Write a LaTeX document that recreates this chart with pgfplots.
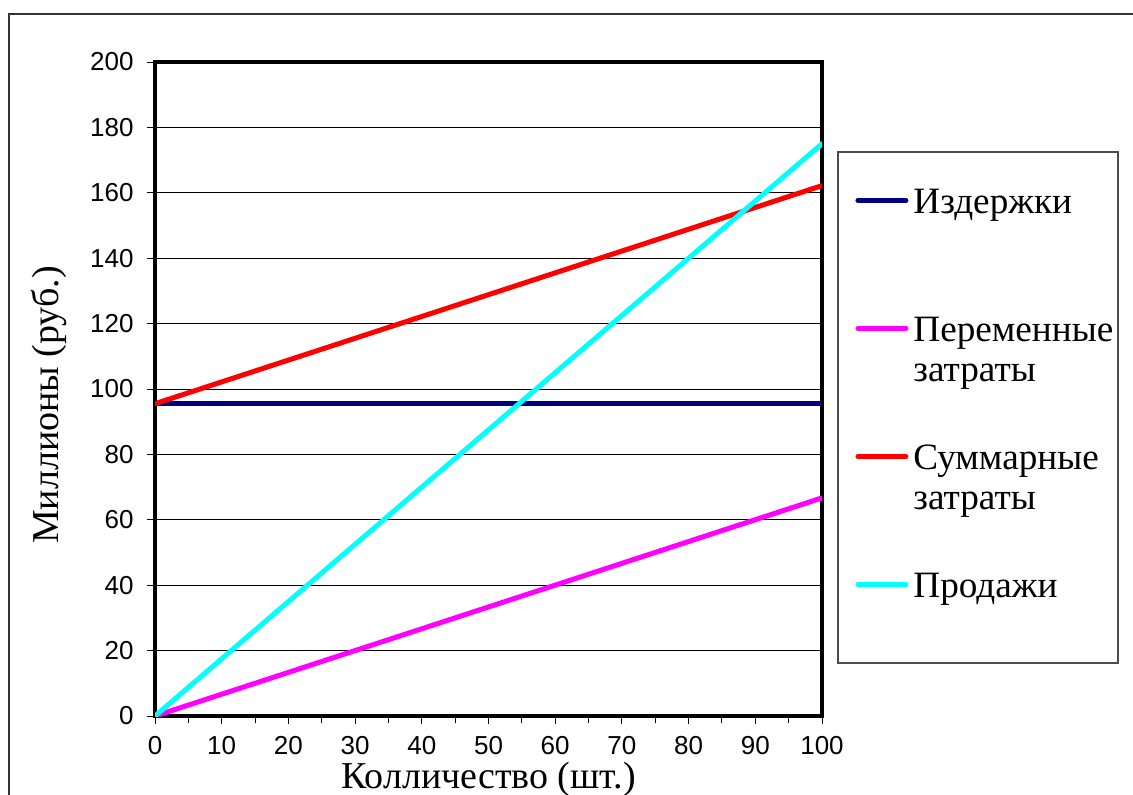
\documentclass[border=0pt]{standalone}
\usepackage{fontspec}
\setmainfont{Liberation Serif}
\setsansfont{Liberation Sans}
\usepackage{pgfplots}
\pgfplotsset{compat=1.18}
\definecolor{navyc}{RGB}{0,0,128}
\definecolor{magc}{RGB}{255,0,255}
\definecolor{redc}{RGB}{255,0,0}
\definecolor{cyanc}{RGB}{0,255,255}
\begin{document}
\begin{tikzpicture}[x=1pt,y=1pt]
\useasboundingbox (0,0) rectangle (566.5,397);
\draw[line width=0.6pt, black!80] (4.5,-2) -- (4.5,390) -- (570,390);
\begin{axis}[
  at={(77.5pt,39pt)}, anchor=south west,
  scale only axis, width=333.5pt, height=327pt,
  xmin=0, xmax=100, ymin=0, ymax=200,
  xtick={0,10,...,100}, minor xtick={5,15,...,95},
  ytick={0,20,...,200},
  ymajorgrids, grid style={black, line width=0.5pt},
  axis line style={black, line width=2pt},
  tick align=outside, xtick pos=bottom, ytick pos=left,
  major tick length=4pt, minor tick length=3.5pt,
  tick style={black, line width=0.5pt},
  /pgf/number format/assume math mode=true,
  tick label style={font=\sffamily\fontsize{13}{15}\selectfont},
  yticklabel style={xshift=-3.2pt},
  xticklabel style={yshift=-2.7pt},
  xlabel={Колличество (шт.)},
  ylabel={Миллионы (руб.)},
  xlabel style={at={(axis description cs:0.5,0)}, anchor=base, yshift=-36pt, font=\fontsize{19}{22}\selectfont},
  ylabel style={at={(axis description cs:-0.1454,0.4755)}, anchor=base, font=\fontsize{19}{22}\selectfont},
  legend style={draw=none, fill=none, at={(1.0495,0.8119)}, anchor=north west,
    inner sep=0pt, column sep=2.5pt, row sep=33pt,
    nodes={anchor=base west, inner sep=0pt, text height=14pt, text depth=17pt, font=\fontsize{18.6}{20}\selectfont}},
  legend image code/.code={\draw[#1, line cap=round] (1.25pt,6.5pt) -- (25.25pt,6.5pt);},
  every axis plot/.append style={line width=2.5pt, line cap=round},
]
\addplot[navyc] coordinates {(0,95.5) (100,95.5)};
\addlegendentry{Издержки}
\addplot[magc] coordinates {(0,0) (100,66.7)};
\addlegendentry{\begin{tabular}[t]{@{}l@{}}Переменные\\затраты\end{tabular}}
\addplot[redc] coordinates {(0,95.5) (100,162.2)};
\addlegendentry{\begin{tabular}[t]{@{}l@{}}Суммарные\\затраты\end{tabular}}
\addplot[cyanc] coordinates {(0,0) (100,175)};
\addlegendentry{Продажи}
\end{axis}
\draw[black!70, line width=0.8pt] (419,65.5) rectangle (559,321);
\end{tikzpicture}
\end{document}
